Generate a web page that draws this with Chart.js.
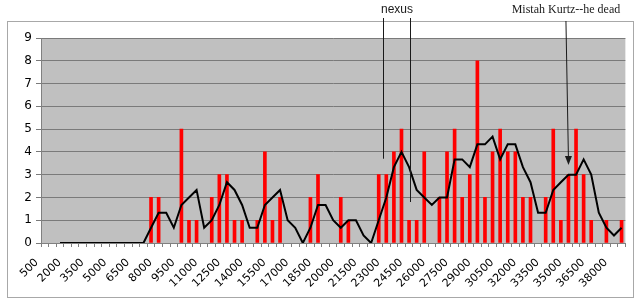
<!DOCTYPE html>
<html>
<head>
<meta charset="utf-8">
<script src="https://cdn.jsdelivr.net/npm/chart.js@4/dist/chart.umd.min.js"></script>
<style>
  html, body { margin: 0; padding: 0; background: #fff; }
</style>
</head>
<body>
<canvas id="chart" width="640" height="303"></canvas>
<script>
// categories (word position), step 500
const categories = [
  '500','1000','1500','2000','2500','3000','3500','4000','4500','5000',
  '5500','6000','6500','7000','7500','8000','8500','9000','9500','10000',
  '10500','11000','11500','12000','12500','13000','13500','14000','14500','15000',
  '15500','16000','16500','17000','17500','18000','18500','19000','19500','20000',
  '20500','21000','21500','22000','22500','23000','23500','24000','24500','25000',
  '25500','26000','26500','27000','27500','28000','28500','29000','29500','30000',
  '30500','31000','31500','32000','32500','33000','33500','34000','34500','35000',
  '35500','36000','36500','37000','37500','38000','38500'
]

// red bars
const counts = [
  0,0,0,0,0,0,0,0,0,0,
  0,0,0,0,2,2,0,0,5,1,
  1,0,2,3,3,1,1,0,1,4,
  1,2,0,0,0,2,3,0,0,2,
  1,0,0,0,3,3,4,5,1,1,
  4,0,2,4,5,2,3,8,2,4,
  5,4,4,2,2,0,2,5,1,3,
  5,3,1,0,1,0,1
]

// black line
const trend = [
  null,null,0,0,0,0,0,0,0,0,
  0,0,0,0,0.67,1.33,1.33,0.67,1.67,2,
  2.33,0.67,1,1.67,2.67,2.33,1.67,0.67,0.67,1.67,
  2,2.33,1,0.67,0,0.67,1.67,1.67,1,0.67,
  1,1,0.33,0,1,2,3.33,4,3.33,2.33,
  2,1.67,2,2,3.67,3.67,3.33,4.33,4.33,4.67,
  3.67,4.33,4.33,3.33,2.67,1.33,1.33,2.33,2.67,3,
  3,3.67,3,1.33,0.67,0.33,0.67
]

const yTicks = [0,1,2,3,4,5,6,7,8,9]

const decor = {
  id: 'decor',
  beforeDraw(chart) {
    const ctx = chart.ctx, a = chart.chartArea
    ctx.save()
    ctx.fillStyle = '#fff'
    ctx.fillRect(0, 0, chart.width, chart.height)
    ctx.strokeStyle = '#a8a8a8'
    ctx.lineWidth = 1
    ctx.strokeRect(7.5, 21.5, 626, 276)
    ctx.fillStyle = '#c0c0c0'
    ctx.fillRect(a.left, a.top, a.right - a.left, a.bottom - a.top)
    ctx.restore()
  },
  afterDraw(chart) {
    const ctx = chart.ctx, xs = chart.scales.x, ys = chart.scales.y
    ctx.save()
    ctx.strokeStyle = '#1a1a1a'
    ctx.fillStyle = '#1a1a1a'
    ctx.lineWidth = 1

    // nexus: two pointer lines
    const n1 = Math.round(xs.getPixelForValue(44.5)) + 0.5
    const n2 = Math.round(xs.getPixelForValue(48.1)) + 0.5
    ctx.beginPath()
    ctx.moveTo(n1, 18); ctx.lineTo(n1, ys.getPixelForValue(3.7))
    ctx.moveTo(n2, 18); ctx.lineTo(n2, ys.getPixelForValue(1.8))
    ctx.stroke()
    ctx.font = '12px "Liberation Sans", Arial, sans-serif'
    ctx.textAlign = 'center'
    ctx.textBaseline = 'middle'
    ctx.fillText('nexus', (n1 + n2) / 2, 10)

    // Kurtz arrow
    const kx0 = xs.getPixelForValue(68.67), ky0 = 21
    const kx1 = xs.getPixelForValue(69), ky1 = ys.getPixelForValue(3.42)
    ctx.beginPath()
    ctx.moveTo(kx0, ky0); ctx.lineTo(kx1, ky1 - 6)
    ctx.stroke()
    ctx.beginPath()
    ctx.moveTo(kx1, ky1)
    ctx.lineTo(kx1 - 3.5, ky1 - 9)
    ctx.lineTo(kx1 + 3.5, ky1 - 9)
    ctx.closePath()
    ctx.fill()
    ctx.font = '12px "Liberation Serif", "Times New Roman", serif'
    ctx.fillText('Mistah Kurtz--he dead', kx0, 10)
    ctx.restore()
  }
}

new Chart(document.getElementById('chart'), {
  type: 'bar',
  data: {
    labels: categories,
    datasets: [
      {
        type: 'line',
        data: trend,
        borderColor: '#000',
        borderWidth: 2,
        pointRadius: 0,
        tension: 0,
        order: 0
      },
      {
        type: 'bar',
        data: counts.map(v => v || null),
        backgroundColor: '#ff0000',
        barThickness: 3,
        order: 1
      }
    ]
  },
  options: {
    responsive: false,
    animation: false,
    devicePixelRatio: 1,
    layout: { padding: { top: 38, right: 14, left: 0, bottom: 0 } },
    plugins: { legend: { display: false }, tooltip: { enabled: false } },
    scales: {
      x: {
        afterFit(s) { s.height = 60 },
        grid: { offset: true, drawOnChartArea: false, tickLength: 4, color: '#808080' },
        border: { color: '#808080' },
        ticks: {
          autoSkip: false,
          minRotation: 45,
          maxRotation: 45,
          padding: 9,
          labelOffset: -8,
          color: '#000',
          font: { family: '"DejaVu Sans", Verdana, sans-serif', size: 11 },
          callback(v, i) { return i % 3 === 0 ? categories[i] : '' }
        }
      },
      y: {
        min: 0,
        max: 9,
        afterFit(s) { s.width = 41 },
        afterBuildTicks(s) { s.ticks = yTicks.map(v => ({ value: v })) },
        grid: { color: '#7a7a7a', tickLength: 5 },
        border: { color: '#808080' },
        ticks: {
          padding: 4,
          color: '#000',
          font: { family: '"DejaVu Sans", Verdana, sans-serif', size: 12 }
        }
      }
    }
  },
  plugins: [decor]
})
</script>
</body>
</html>
